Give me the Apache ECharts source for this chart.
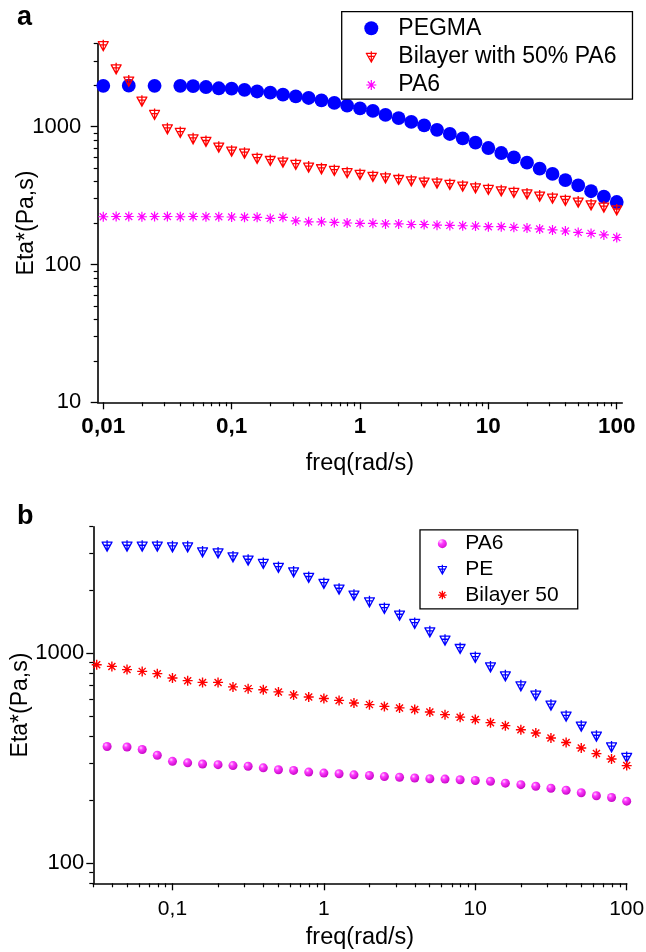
<!DOCTYPE html>
<html>
<head>
<meta charset="utf-8">
<title>Complex viscosity vs frequency</title>
<script src="https://cdn.jsdelivr.net/npm/echarts@6/dist/echarts.min.js"></script>
<style>
  html, body { margin: 0; padding: 0; background: #fff; }
  #chart { width: 646px; height: 952px; }
</style>
</head>
<body>
<div id="chart"></div>
<script>
// ---------- Panel (a): PEGMA / bilayer / PA6 ----------
const freqA = [0.01, 0.0126, 0.0158, 0.02, 0.0251, 0.0316, 0.0398, 0.0501, 0.0631, 0.0794,
  0.1, 0.126, 0.158, 0.2, 0.251, 0.316, 0.398, 0.501, 0.631, 0.794,
  1, 1.26, 1.58, 2, 2.51, 3.16, 3.98, 5.01, 6.31, 7.94,
  10, 12.6, 15.8, 20, 25.1, 31.6, 39.8, 50.1, 63.1, 79.4, 100];
const freqPegma = [0.01, 0.0158, 0.0251, 0.0398, 0.0501, 0.0631, 0.0794,
  0.1, 0.126, 0.158, 0.2, 0.251, 0.316, 0.398, 0.501, 0.631, 0.794,
  1, 1.26, 1.58, 2, 2.51, 3.16, 3.98, 5.01, 6.31, 7.94,
  10, 12.6, 15.8, 20, 25.1, 31.6, 39.8, 50.1, 63.1, 79.4, 100];
const etaPegma = [1980, 1985, 1980, 1980, 1970, 1940, 1900, 1890, 1850, 1800, 1765, 1710, 1660,
  1615, 1554, 1486, 1421, 1359, 1300, 1216, 1152, 1082, 1022, 948, 885, 823, 766, 700, 644,
  599, 548, 496, 454, 410, 375, 340, 311, 284];
const etaBilayerA = [3900, 2650, 2160, 1545, 1236, 973, 915, 823, 788, 716, 670, 648, 593, 573,
  558, 536, 513, 499, 485, 467, 454, 439, 429, 417, 408, 399, 393, 384, 373, 363, 353, 345,
  336, 328, 316, 305, 294, 286, 273, 263, 251];
const etaPa6A = [222, 223, 223, 222, 223, 223, 222, 223, 222, 222, 221, 220, 220, 216, 220, 207,
  204, 204, 202, 200, 199, 199, 197, 197, 195, 195, 193, 192, 191, 190, 188, 188, 186, 184,
  181, 178, 175, 171, 168, 164, 157];

// ---------- Panel (b): PA6 / PE / bilayer 50 ----------
const freqB = [0.037, 0.0501, 0.0631, 0.0794,
  0.1, 0.126, 0.158, 0.2, 0.251, 0.316, 0.398, 0.501, 0.631, 0.794,
  1, 1.26, 1.58, 2, 2.51, 3.16, 3.98, 5.01, 6.31, 7.94,
  10, 12.6, 15.8, 20, 25.1, 31.6, 39.8, 50.1, 63.1, 79.4, 100];
const freqBilayerB = [0.0316, 0.0398, 0.0501, 0.0631, 0.0794,
  0.1, 0.126, 0.158, 0.2, 0.251, 0.316, 0.398, 0.501, 0.631, 0.794,
  1, 1.26, 1.58, 2, 2.51, 3.16, 3.98, 5.01, 6.31, 7.94,
  10, 12.6, 15.8, 20, 25.1, 31.6, 39.8, 50.1, 63.1, 79.4, 100];
const etaPa6B = [359, 357, 347, 326, 305, 300, 296, 294, 291, 289, 284, 278, 276, 271, 268, 266,
  263, 261, 258, 256, 254, 252, 251, 249, 247, 245, 240, 236, 232, 227, 222, 216, 209, 205, 197];
const etaPe = [3249, 3249, 3249, 3249, 3224, 3224, 3051, 3018, 2888, 2786, 2687, 2572, 2450,
  2305, 2158, 2027, 1898, 1764, 1640, 1524, 1391, 1269, 1158, 1057, 958, 864, 783, 702, 634,
  568, 503, 451, 404, 359, 320];
const etaBilayerB = [880, 864, 834, 818, 798, 761, 739, 725, 725, 690, 677, 669, 653, 632, 618,
  607, 595, 578, 568, 557, 548, 538, 524, 509, 495, 482, 466, 451, 431, 416, 394, 375, 353,
  332, 313, 291];

// ---------- axis ticks ----------
const xMajorA = [0.01, 0.1, 1, 10, 100];
const yMajorA = [10, 100, 1000];
const xMajorB = [0.1, 1, 10, 100];
const yMajorB = [100, 1000];

const FONT = "'Liberation Sans', Arial, Helvetica, sans-serif";
const BLACK = '#000';

// m x 10^e minor positions (m = 2..9) that fall inside [lo, hi]
function minorTicks(lo, hi) {
  const out = [];
  for (let e = -3; e <= 4; e++) {
    for (let m = 2; m <= 9; m++) {
      const v = +(m * Math.pow(10, e)).toPrecision(6);
      if (v >= lo * 0.9999 && v <= hi * 1.0001) out.push(v);
    }
  }
  return out;
}
const fmt = v => String(+(+v).toPrecision(6)).replace('.', ',');
const pairs = (xs, ys) => xs.map((x, i) => [x, ys[i]]);

// marker shapes
const TRI = 'path://M10 0.5L10 20M0 4L20 4M1 4L10 20L19 4M5 9.5L15 9.5';
const STAR = 'path://M10 0L10 20M0 10L20 10M3 3L17 17M17 3L3 17';
// same shapes with empty margins, for smaller legend icons
const TRI_LEG = 'path://M-2.7 -2.7M22.7 22.7M10 0.5L10 20M0 4L20 4M1 4L10 20L19 4M5 9.5L15 9.5';
const STAR_LEG = 'path://M-4 -4M24 24M10 0L10 20M0 10L20 10M3 3L17 17M17 3L3 17';
const BALL_LEG = 'path://M-3.3 -3.3M23.3 23.3M0 10A10 10 0 1 1 20 10A10 10 0 1 1 0 10Z';

const ball = {
  type: 'radial', x: 0.36, y: 0.32, r: 0.75,
  colorStops: [
    { offset: 0, color: '#ffd6ff' },
    { offset: 0.3, color: '#ff3cff' },
    { offset: 1, color: '#c000c0' }
  ]
};

// range of each panel
const rangeA = { xmin: 0.00905, xmax: 110.5, ymin: 10, ymax: 4000 };
const rangeB = { xmin: 0.03, xmax: 100, ymin: 80, ymax: 4000 };

function mainXAxis(grid, r, major, bold, fontSize, margin, nameGap) {
  return {
    type: 'log', gridIndex: grid, min: r.xmin, max: r.xmax, position: 'bottom',
    axisLine: { show: true, onZero: false, lineStyle: { color: BLACK, width: 1.6 } },
    axisTick: { show: true, inside: false, length: 7, customValues: major,
      lineStyle: { color: BLACK, width: 1.3 } },
    minorTick: { show: false },
    splitLine: { show: false },
    axisLabel: { show: true, customValues: major, formatter: fmt, margin: margin,
      fontSize: fontSize, fontWeight: bold ? 'bold' : 'normal', color: BLACK, fontFamily: FONT },
    name: 'freq(rad/s)', nameLocation: 'middle', nameGap: nameGap, nameMoveOverlap: false,
    nameTextStyle: { fontSize: 23.5, color: BLACK, fontFamily: FONT }
  };
}
function minorXAxis(grid, r) {
  return {
    type: 'log', gridIndex: grid, min: r.xmin, max: r.xmax, position: 'bottom',
    axisLine: { show: false },
    axisTick: { show: true, length: 4, customValues: minorTicks(r.xmin, r.xmax),
      lineStyle: { color: BLACK, width: 1.2 } },
    minorTick: { show: false }, splitLine: { show: false },
    axisLabel: { show: false }
  };
}
function mainYAxis(grid, r, major, margin, nameGap) {
  return {
    type: 'log', gridIndex: grid, min: r.ymin, max: r.ymax, position: 'left',
    axisLine: { show: true, onZero: false, lineStyle: { color: BLACK, width: 1.6 } },
    axisTick: { show: true, inside: false, length: 7, customValues: major,
      lineStyle: { color: BLACK, width: 1.3 } },
    minorTick: { show: false },
    splitLine: { show: false },
    axisLabel: { show: true, customValues: major, formatter: fmt, margin: margin,
      fontSize: 22, color: BLACK, fontFamily: FONT },
    name: 'Eta*(Pa,s)', nameLocation: 'middle', nameGap: nameGap, nameMoveOverlap: false,
    nameTextStyle: { fontSize: 23, color: BLACK, fontFamily: FONT }
  };
}
function minorYAxis(grid, r) {
  return {
    type: 'log', gridIndex: grid, min: r.ymin, max: r.ymax, position: 'left',
    axisLine: { show: false },
    axisTick: { show: true, length: 4, customValues: minorTicks(r.ymin, r.ymax),
      lineStyle: { color: BLACK, width: 1.2 } },
    minorTick: { show: false }, splitLine: { show: false },
    axisLabel: { show: false }
  };
}

function scatter(name, xi, yi, data, symbol, size, style) {
  return {
    type: 'scatter', name: name, xAxisIndex: xi, yAxisIndex: yi,
    data: data, symbol: symbol, symbolSize: size, clip: false,
    itemStyle: Object.assign({ opacity: 1 }, style),
    emphasis: { disabled: true }, z: 3
  };
}

const chart = echarts.init(document.getElementById('chart'), null, { renderer: 'canvas' });

chart.setOption({
  animation: false,
  backgroundColor: '#fff',
  textStyle: { fontFamily: FONT },
  title: [
    { text: 'a', left: 17, top: 4, padding: 0,
      textStyle: { fontSize: 27, fontWeight: 'bold', color: BLACK, fontFamily: FONT } },
    { text: 'b', left: 17, top: 503, padding: 0,
      textStyle: { fontSize: 27, fontWeight: 'bold', color: BLACK, fontFamily: FONT } }
  ],
  grid: [
    { left: 97.7, right: 23.7, top: 43.7, bottom: 549.7, outerBoundsMode: 'none', containLabel: false },
    { left: 93.3, right: 19.3, top: 526.7, bottom: 68.7, outerBoundsMode: 'none', containLabel: false }
  ],
  xAxis: [
    mainXAxis(0, rangeA, xMajorA, true, 22.5, 13, 49),
    minorXAxis(0, rangeA),
    mainXAxis(1, rangeB, xMajorB, false, 21, 15.4, 42),
    minorXAxis(1, rangeB)
  ],
  yAxis: [
    mainYAxis(0, rangeA, yMajorA, 16.5, 60),
    minorYAxis(0, rangeA),
    mainYAxis(1, rangeB, yMajorB, 9, 61.5),
    minorYAxis(1, rangeB)
  ],
  legend: [
    {
      orient: 'vertical', left: 341.7, top: 11.7, align: 'left',
      padding: [2.3, 16, 0, 22], itemGap: 0, itemWidth: 44, itemHeight: 14,
      borderColor: BLACK, borderWidth: 1.3, backgroundColor: '#fff',
      selectedMode: false,
      textStyle: { fontSize: 23, lineHeight: 28.4, color: BLACK, fontFamily: FONT },
      data: [
        { name: 'PEGMA', icon: 'circle', itemStyle: { borderWidth: 0 } },
        { name: 'Bilayer with 50% PA6', icon: TRI_LEG, itemStyle: { borderWidth: 1.2 } },
        { name: 'PA6 ', icon: STAR_LEG, itemStyle: { borderWidth: 1.2 } }
      ]
    },
    {
      orient: 'vertical', left: 420, top: 529.8, align: 'left',
      padding: [1, 19, 1, 15.7], itemGap: 0, itemWidth: 36, itemHeight: 12,
      borderColor: BLACK, borderWidth: 1.3, backgroundColor: '#fff',
      selectedMode: false,
      textStyle: { fontSize: 21, lineHeight: 25.7, color: BLACK, fontFamily: FONT },
      data: [
        { name: 'PA6', icon: BALL_LEG, itemStyle: { borderWidth: 0 } },
        { name: 'PE', icon: TRI_LEG, itemStyle: { borderWidth: 1.2 } },
        { name: 'Bilayer 50', icon: STAR_LEG, itemStyle: { borderWidth: 1.3 } }
      ]
    }
  ],
  series: [
    scatter('PEGMA', 0, 0, pairs(freqPegma, etaPegma), 'circle', 13.8,
      { color: '#0000ff' }),
    scatter('Bilayer with 50% PA6', 0, 0, pairs(freqA, etaBilayerA), TRI, 11,
      { color: 'rgba(255,255,255,0)', borderColor: '#ff0000', borderWidth: 1.3 }),
    // trailing space keeps this legend entry separate from panel (b)'s PA6
    scatter('PA6 ', 0, 0, pairs(freqA, etaPa6A), STAR, 10,
      { color: 'rgba(255,255,255,0)', borderColor: '#ff00ff', borderWidth: 1.2 }),
    scatter('PA6', 2, 2, pairs(freqB, etaPa6B), 'circle', 9,
      { color: ball }),
    scatter('PE', 2, 2, pairs(freqB, etaPe), TRI, 11,
      { color: 'rgba(255,255,255,0)', borderColor: '#0000ff', borderWidth: 1.3 }),
    scatter('Bilayer 50', 2, 2, pairs(freqBilayerB, etaBilayerB), STAR, 10,
      { color: 'rgba(255,255,255,0)', borderColor: '#ff0000', borderWidth: 1.4 })
  ]
});
</script>
</body>
</html>
